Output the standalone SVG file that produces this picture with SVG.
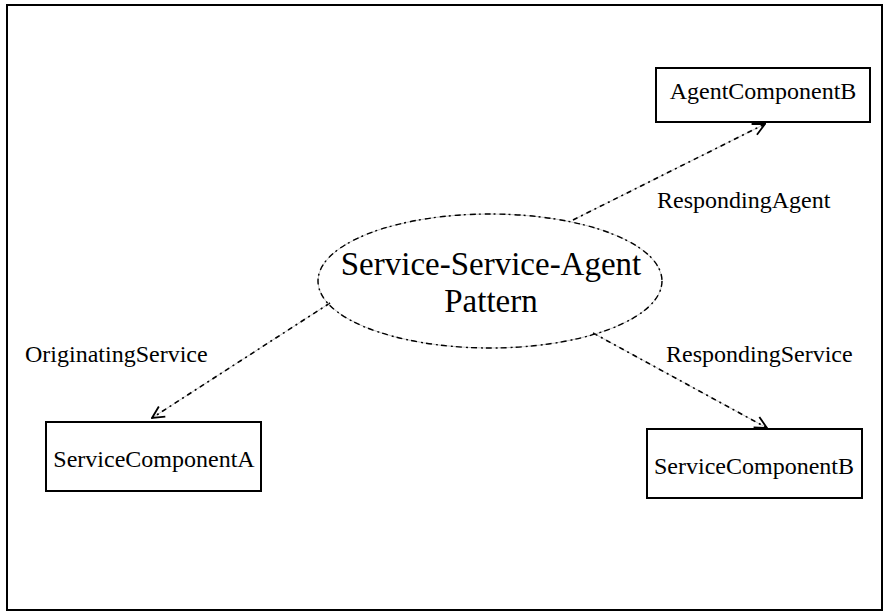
<svg xmlns="http://www.w3.org/2000/svg" width="884" height="612" viewBox="0 0 884 612">
  <defs>
    <style>
      .frame { fill: #ffffff; stroke: #000000; stroke-width: 2; }
      .box { fill: #ffffff; stroke: #000000; stroke-width: 2; }
      .txt { font-family: "Liberation Serif", "Times New Roman", serif; fill: #000000; }
      .lbl { font-size: 24px; }
      .title { font-size: 33px; }
      .guide { fill: none; stroke: #b8b8b8; stroke-width: 0.8; }
      .dash { fill: none; stroke: #000000; stroke-width: 1.6; stroke-dasharray: 5 4 2 4; }
      .edash { fill: none; stroke: #000000; stroke-width: 1.4; stroke-dasharray: 6 3 2 4; }
    </style>
    <marker id="open" viewBox="0 0 14 14" refX="13" refY="7" markerWidth="14" markerHeight="14" markerUnits="userSpaceOnUse" orient="auto">
      <path d="M1,1 L13,7 L1,13" fill="none" stroke="#000000" stroke-width="1.8"/>
    </marker>
  </defs>

  <rect class="frame" x="7" y="5" width="875" height="605"/>

  <!-- connectors from the pattern to its participants -->
  <g id="connectors">
    <line class="guide" x1="330" y1="303" x2="152" y2="418"/>
    <line class="dash" x1="330" y1="303" x2="152" y2="418" marker-end="url(#open)"/>
    <line class="guide" x1="573" y1="220" x2="765" y2="124"/>
    <line class="dash" x1="573" y1="220" x2="765" y2="124" marker-end="url(#open)"/>
    <line class="guide" x1="593" y1="333" x2="767" y2="428"/>
    <line class="dash" x1="593" y1="333" x2="767" y2="428" marker-end="url(#open)"/>
  </g>

  <g id="labels">
    <text class="txt lbl" x="25" y="362">OriginatingService</text>
    <text class="txt lbl" x="657" y="208">RespondingAgent</text>
    <text class="txt lbl" x="666" y="362">RespondingService</text>
  </g>

  <!-- collaboration ellipse -->
  <g id="pattern">
    <ellipse class="guide" cx="490" cy="281" rx="172" ry="67"/>
    <ellipse class="edash" cx="490" cy="281" rx="172" ry="67"/>
    <text class="txt title" x="491" y="275" text-anchor="middle">Service-Service-Agent</text>
    <text class="txt title" x="491" y="312" text-anchor="middle">Pattern</text>
  </g>

  <g id="agentComponentB">
    <rect class="box" x="656" y="68" width="214" height="54"/>
    <text class="txt lbl" x="763" y="99" text-anchor="middle">AgentComponentB</text>
  </g>

  <g id="serviceComponentA">
    <rect class="box" x="46" y="422" width="215" height="69"/>
    <text class="txt lbl" x="154" y="467" text-anchor="middle">ServiceComponentA</text>
  </g>

  <g id="serviceComponentB">
    <rect class="box" x="647" y="429" width="215" height="69"/>
    <text class="txt lbl" x="754" y="474" text-anchor="middle">ServiceComponentB</text>
  </g>
</svg>
